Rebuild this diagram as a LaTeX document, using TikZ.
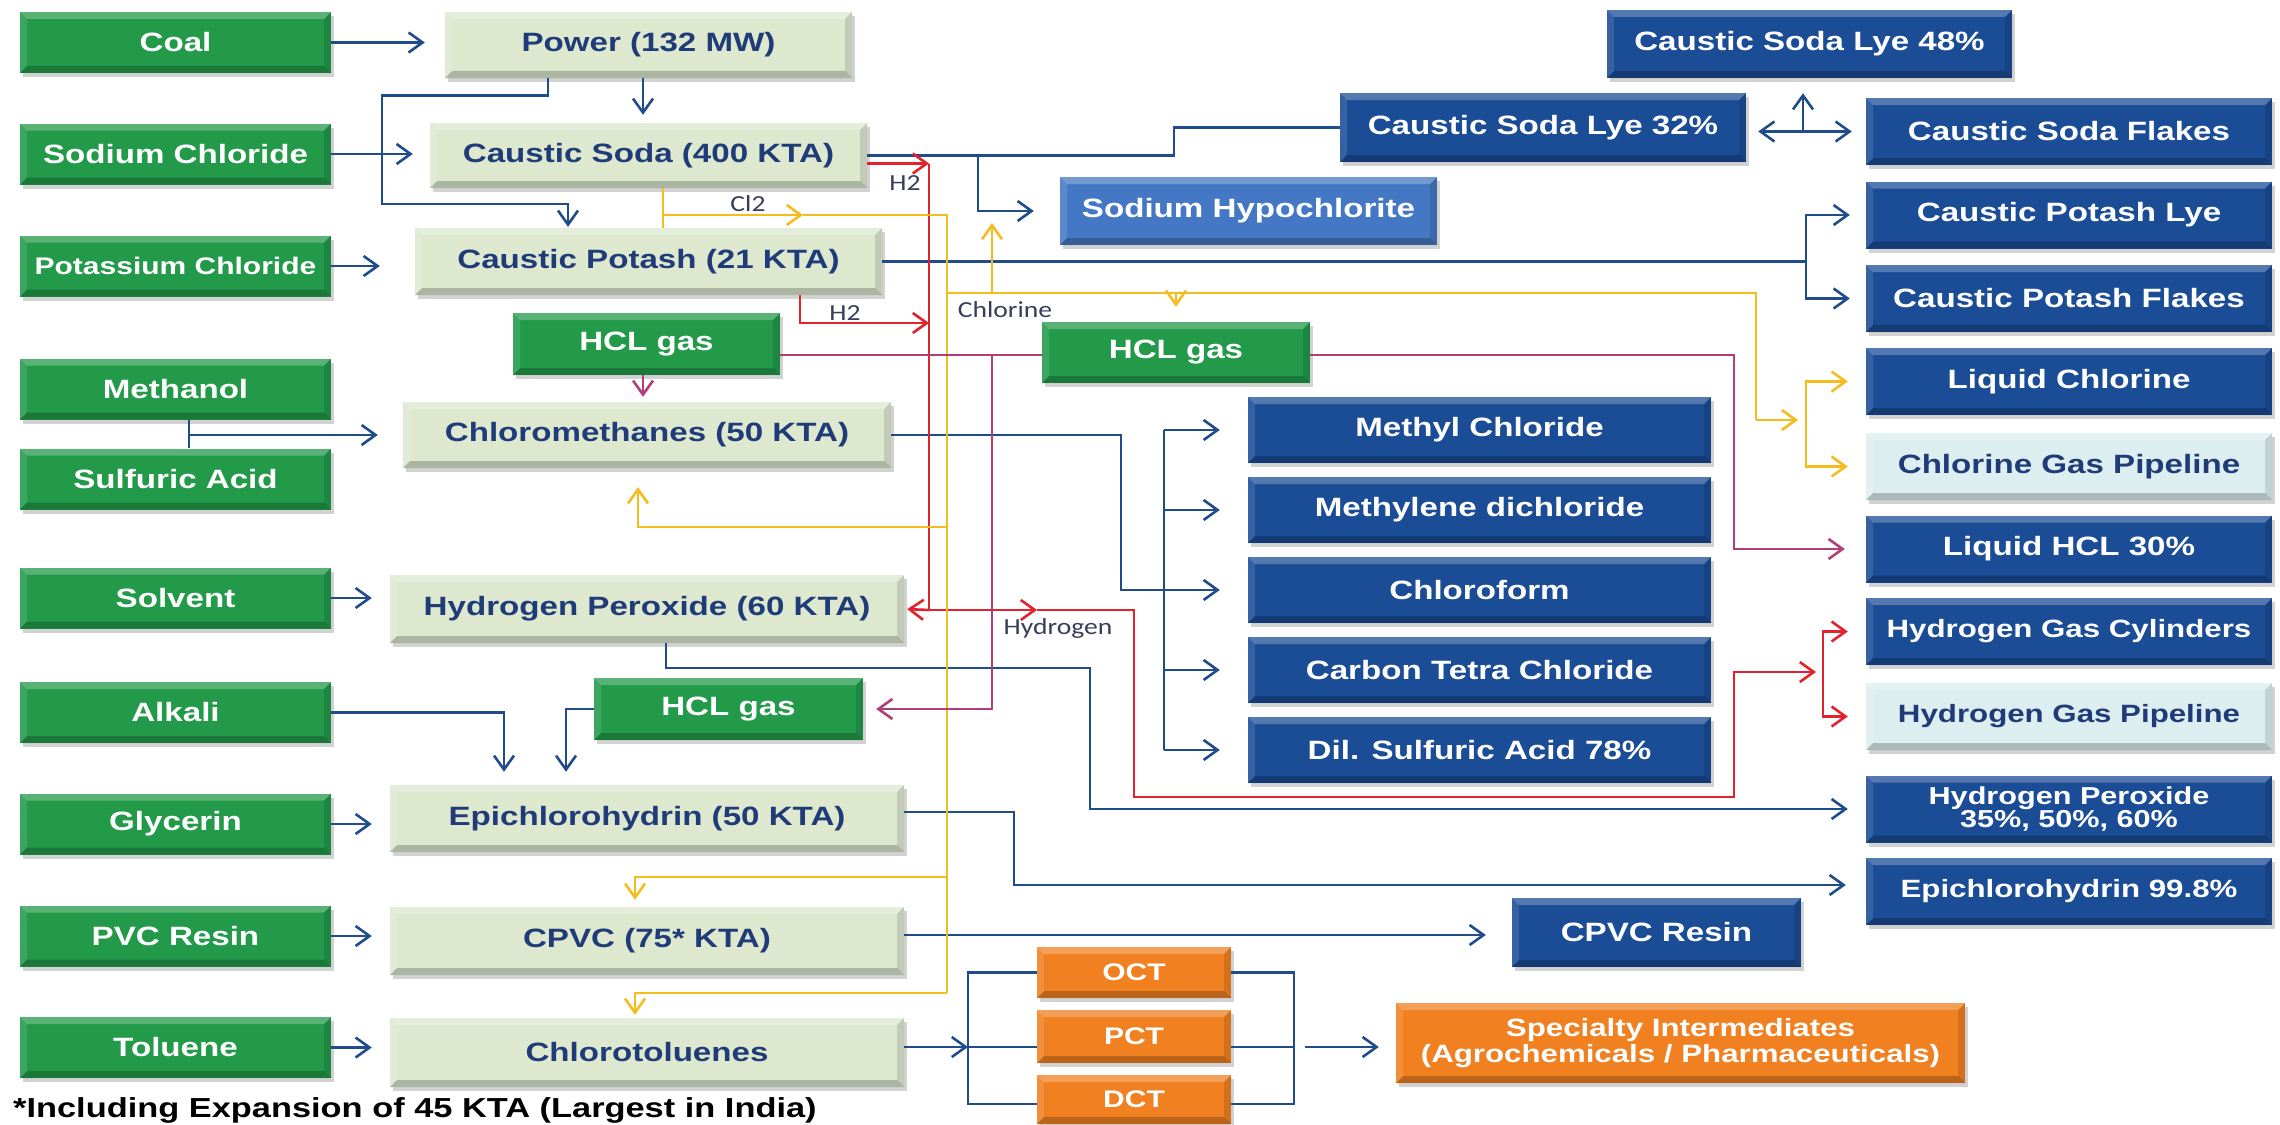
\documentclass[tikz,border=0pt]{standalone}
\usepackage{fontspec}
\setmainfont{Liberation Sans}[FakeStretch=1.25]
\newfontfamily\lblfont{Carlito}[FakeStretch=1.2]
\usetikzlibrary{arrows.meta, shadows, positioning, calc}
\definecolor{InGreen}{RGB}{34,154,74}
\definecolor{ProcGreen}{RGB}{221,232,207}
\definecolor{OutBlue}{RGB}{27,76,150}
\definecolor{LiteBlue}{RGB}{68,120,196}
\definecolor{PipeCyan}{RGB}{221,238,240}
\definecolor{SpecOrange}{RGB}{240,128,32}
\definecolor{NavyText}{RGB}{31,60,120}
\definecolor{LblText}{RGB}{55,62,90}
\definecolor{FlowBlue}{RGB}{32,76,140}
\definecolor{FlowRed}{RGB}{226,35,45}
\definecolor{FlowYellow}{RGB}{244,188,28}
\definecolor{FlowMag}{RGB}{178,62,122}
\tikzset{
  >={Straight Barb[length=14pt,width=20pt]},
  % caselle
  bevel/.style={path picture={
    \coordinate (bnw) at (path picture bounding box.north west);
    \coordinate (bne) at (path picture bounding box.north east);
    \coordinate (bsw) at (path picture bounding box.south west);
    \coordinate (bse) at (path picture bounding box.south east);
    \fill[white,opacity=.25] (bnw) -- (bne) -- ([shift={(-7pt,-7pt)}]bne) -- ([shift={(7pt,-7pt)}]bnw) -- cycle;
    \fill[white,opacity=.12] (bnw) -- ([shift={(7pt,-7pt)}]bnw) -- ([shift={(7pt,7pt)}]bsw) -- (bsw) -- cycle;
    \fill[black,opacity=.22] (bsw) -- (bse) -- ([shift={(-7pt,7pt)}]bse) -- ([shift={(7pt,7pt)}]bsw) -- cycle;
    \fill[black,opacity=.12] (bne) -- ([shift={(-7pt,-7pt)}]bne) -- ([shift={(-7pt,7pt)}]bse) -- (bse) -- cycle;
  }},
  box/.style={rectangle, inner sep=0pt, align=center, bevel,
    font=\bfseries\fontsize{26.5}{28}\selectfont,
    drop shadow={opacity=.35, shadow xshift=3pt, shadow yshift=-4pt}},
  box in/.style={box, fill=InGreen, text=white},
  box left/.style={box in, minimum width=311, minimum height=61},
  box proc/.style={box, fill=ProcGreen, text=NavyText},
  box out/.style={box, fill=OutBlue, text=white},
  box right/.style={box out, minimum width=406, minimum height=67},
  box mid/.style={box out, minimum width=463, minimum height=66},
  box pipe/.style={fill=PipeCyan, text=NavyText},
  box spec/.style={box, fill=SpecOrange, text=white},
  lbl/.style={inner sep=0pt, text=LblText, font=\lblfont\fontsize{23}{24}\selectfont},
  % connessioni
  flow/.style={line width=2.6pt},
  flow blue/.style={flow, draw=FlowBlue},
  flow red/.style={flow, draw=FlowRed},
  flow yellow/.style={flow, draw=FlowYellow},
  flow mag/.style={flow, draw=FlowMag}
}

\begin{document}
\begin{tikzpicture}[x=1pt,y=-1pt]
  \useasboundingbox (0,0) rectangle (2280,1124);
  \fill[white] (0,0) rectangle (2280,1124);

  % materie prime
  \node[box left] (coal) at (175.5,42.5) {Coal};
  \node[box left] (nacl) at (175.5,154) {Sodium Chloride};
  \node[box left, font=\bfseries\fontsize{24}{26}\selectfont] (kcl) at (175.5,266) {Potassium Chloride};
  \node[box left] (meoh) at (175.5,389) {Methanol};
  \node[box left] (hsulf) at (175.5,479) {Sulfuric Acid};
  \node[box left] (solv) at (175.5,598) {Solvent};
  \node[box left] (alkali) at (175.5,712.5) {Alkali};
  \node[box left] (glyc) at (175.5,824) {Glycerin};
  \node[box left] (pvc) at (175.5,936) {PVC Resin};
  \node[box left] (tolu) at (175.5,1047.5) {Toluene};

  % impianti
  \node[box proc, minimum width=407, minimum height=66] (power) at (648.5,45) {Power (132 MW)};
  \node[box proc, minimum width=437, minimum height=65] (soda) at (648.5,155.5) {Caustic Soda (400 KTA)};
  \node[box proc, minimum width=467, minimum height=67] (potash) at (648.5,261.5) {Caustic Potash (21 KTA)};
  \node[box proc, minimum width=488, minimum height=66] (chmeth) at (647,435) {Chloromethanes (50 KTA)};
  \node[box proc, minimum width=514, minimum height=68] (hperox) at (647,609) {Hydrogen Peroxide (60 KTA)};
  \node[box proc, minimum width=514, minimum height=67] (epi) at (647,818.5) {Epichlorohydrin (50 KTA)};
  \node[box proc, minimum width=514, minimum height=68] (cpvc) at (647,941) {CPVC (75* KTA)};
  \node[box proc, minimum width=514, minimum height=69] (chtol) at (647,1052.5) {Chlorotoluenes};

  \node[box in, minimum width=267, minimum height=62] (hcltop) at (646.5,344) {HCL gas};
  \node[box in, minimum width=268, minimum height=61] (hclright) at (1176,352.5) {HCL gas};
  \node[box in, minimum width=269, minimum height=62] (hclmid) at (728.5,709) {HCL gas};

  % prodotti
  \node[box out, minimum width=405, minimum height=68] (lye48) at (1809.5,44) {Caustic Soda Lye 48\%};
  \node[box out, minimum width=406, minimum height=69] (lye32) at (1543,127.5) {Caustic Soda Lye 32\%};
  \node[box out, fill=LiteBlue, minimum width=377, minimum height=68] (hypo) at (1248.5,211) {Sodium Hypochlorite};
  \node[box right] (flakes) at (2069,131.5) {Caustic Soda Flakes};
  \node[box right] (kohlye) at (2069,215) {Caustic Potash Lye};
  \node[box right] (kohflk) at (2069,298.5) {Caustic Potash Flakes};
  \node[box right] (liqcl) at (2069,381.5) {Liquid Chlorine};
  \node[box right, box pipe] (clpipe) at (2069,466.5) {Chlorine Gas Pipeline};
  \node[box right] (liqhcl) at (2069,549) {Liquid HCL 30\%};
  \node[box right, font=\bfseries\fontsize{25}{26}\selectfont] (hcyl) at (2069,631.5) {Hydrogen Gas Cylinders};
  \node[box right, box pipe, font=\bfseries\fontsize{25}{26}\selectfont] (hpipe) at (2069,716.5) {Hydrogen Gas Pipeline};
  \node[box right, font=\bfseries\fontsize{24.5}{23.5}\selectfont] (hpsol) at (2069,809) {Hydrogen Peroxide\\35\%, 50\%, 60\%};
  \node[box right, font=\bfseries\fontsize{25}{26}\selectfont] (epipure) at (2069,891.5) {Epichlorohydrin 99.8\%};

  \node[box mid] (mecl) at (1479.5,430) {Methyl Chloride};
  \node[box mid] (mdc) at (1479.5,510) {Methylene dichloride};
  \node[box mid] (chcl3) at (1479.5,590) {Chloroform};
  \node[box mid] (ccl4) at (1479.5,670) {Carbon Tetra Chloride};
  \node[box mid] (dilsa) at (1479.5,750) {Dil. Sulfuric Acid 78\%};
  \node[box out, minimum width=289, minimum height=69] (cpvcres) at (1656.5,932.5) {CPVC Resin};

  \node[box spec, minimum width=194, minimum height=51, font=\bfseries\fontsize{24}{26}\selectfont] (oct) at (1134,972.5) {OCT};
  \node[box spec, minimum width=194, minimum height=53, font=\bfseries\fontsize{24}{26}\selectfont] (pct) at (1134,1036.5) {PCT};
  \node[box spec, minimum width=194, minimum height=49, font=\bfseries\fontsize{24}{26}\selectfont] (dct) at (1134,1099.5) {DCT};
  \node[box spec, minimum width=569, minimum height=80, font=\bfseries\fontsize{25}{26}\selectfont] (spec) at (1680.5,1043) {Specialty Intermediates\\(Agrochemicals / Pharmaceuticals)};

  \node[anchor=west, inner sep=0pt, font=\bfseries\fontsize{27.5}{29}\selectfont] (note) at (13,1110) {*Including Expansion of 45 KTA (Largest in India)};

  % etichette
  \node[lbl] (lblcl) at (748,204) {Cl2};
  \node[lbl] (lblha) at (905,183) {H2};
  \node[lbl] (lblhb) at (845,313) {H2};
  \node[lbl] (lblchl) at (1005,310) {Chlorine};
  \node[lbl] (lblhyd) at (1058,628) {Hydrogen};

  % punti di diramazione
  \coordinate (sodaj) at (1174,155.5);
  \coordinate (kbus) at (1806,261.5);
  \coordinate (tbus) at (968,1047);
  \coordinate (hbus) at (929,163.5);
  \coordinate (hsplit) at (929,610);
  \coordinate (h2bus) at (1823,672);
  \coordinate (clbus) at (947,215);
  \coordinate (clsplit) at (1806,420);

  % flussi blu
  \draw[flow blue,->,shorten >=20pt] (coal.east) -- (coal.east -| power.west);
  \draw[flow blue,->,shorten >=17pt] (nacl.east) -- (nacl.east -| soda.west);
  \draw[flow blue,->,shorten >=35pt] (kcl.east) -- (kcl.east -| potash.west);
  \draw[flow blue,->,shorten >=8pt] ([xshift=-5.5pt]power.south) -- ([xshift=-5.5pt]power.south |- soda.north);
  \draw[flow blue,->,shorten >=1pt] ([xshift=-100.5pt]power.south) -- ++(0,17) -| (382,204) -| ([xshift=-80.5pt]potash.north);
  \draw[flow blue] (soda.east) -- (sodaj) |- (lye32.west);
  \draw[flow blue,->,shorten >=26pt] (soda.east -| 978,0) |- (hypo.west);
  \draw[flow blue] (potash.east) -- (kbus);
  \draw[flow blue,->,shorten >=16pt] (kbus) |- (kohlye.west);
  \draw[flow blue,->,shorten >=16pt] (kbus) |- (kohflk.west);
  \draw[flow blue,<->,shorten <=12pt,shorten >=14pt] (flakes.west -| lye32.east) -- (flakes.west);
  \draw[flow blue,->,shorten >=15pt] (flakes.west -| 1803,0) -- (lye48.south -| 1803,0);
  \draw[flow blue] ([xshift=13.5pt]meoh.south) -- ([xshift=13.5pt]hsulf.north);
  \draw[flow blue,->,shorten >=25pt] ([xshift=13.5pt]meoh.south |- chmeth.west) -- (chmeth.west);
  \draw[flow blue,->,shorten >=28pt] (chmeth.east) -| (1121,590) -- (chcl3.west);
  \draw[flow blue] (mecl.west -| 1164,0) -- (dilsa.west -| 1164,0);
  \foreach \n in {mecl,mdc,ccl4,dilsa}
    \draw[flow blue,->,shorten >=28pt] (\n.west -| 1164,0) -- (\n.west);
  \draw[flow blue,->,shorten >=18pt] (solv.east) -- (solv.east -| hperox.west);
  \draw[flow blue,->,shorten >=18pt] ([xshift=19pt]hperox.south) |- (1090,668) |- (hpsol.west);
  \draw[flow blue,->,shorten >=13pt] (alkali.east) -| ([xshift=-143pt]epi.north);
  \draw[flow blue,->,shorten >=13pt] (hclmid.west) -| ([xshift=-81pt]epi.north);
  \draw[flow blue,->,shorten >=18pt] (glyc.east) -- (glyc.east -| epi.west);
  \draw[flow blue,->,shorten >=20pt] ([yshift=6.5pt]epi.east) -| (1014,885) -- (epipure.west |- 1014,885);
  \draw[flow blue,->,shorten >=18pt] (pvc.east) -- (pvc.east -| cpvc.west);
  \draw[flow blue,->,shorten >=26pt] ([yshift=6pt]cpvc.east) -- ([yshift=6pt]cpvc.east -| cpvcres.west);
  \draw[flow blue,->,shorten >=18pt] (tolu.east) -- (tolu.east -| chtol.west);
  \draw[flow blue,->] ([yshift=5.5pt]chtol.east) -- (tbus);
  \draw[flow blue] (oct.west) -| (968,1104) -- (dct.west |- 968,1104);
  \draw[flow blue] (tbus) -- (pct.west |- tbus);
  \draw[flow blue] (oct.east) -| (1294,1104) -- (dct.east |- 1294,1104);
  \draw[flow blue] (pct.east |- tbus) -- (1294,1047);
  \draw[flow blue,->,shorten >=17pt] (1305,1047) -- (spec.west |- tbus);

  % idrogeno
  \draw[flow red,->] ([yshift=-8pt]soda.east) -- (hbus);
  \draw[flow red,->] ([xshift=151.5pt]potash.south) |- (hbus |- 0,323);
  \draw[flow red] (hbus) -- (hsplit);
  \draw[flow red,->,shorten >=3pt] (hsplit) -- (hperox.east);
  \draw[flow red,->] (hsplit) -- (1037,610);
  \draw[flow red,->] (1037,610) -- (1134,610) |- (1734,797) |- (1816,672);
  \draw[flow red,->,shorten >=18pt] (h2bus) |- (hcyl.west);
  \draw[flow red,->,shorten >=18pt] (h2bus) |- (hpipe.west);

  % cloro
  \draw[flow yellow] ([xshift=14.5pt]soda.south) -- ([xshift=14.5pt]potash.north);
  \draw[flow yellow,->] ([xshift=14.5pt]soda.south |- clbus) -- (803,215);
  \draw[flow yellow] (803,215) -- (clbus) -- (947,993);
  \draw[flow yellow] (clbus |- 0,293) -- (1756,293) -- (1756,420);
  \draw[flow yellow,->] (1756,420) -- (1798,420);
  \draw[flow yellow,->,shorten >=18pt] (clsplit) |- (liqcl.west);
  \draw[flow yellow,->,shorten >=18pt] (clsplit) |- (clpipe.west);
  \draw[flow yellow,->] (992,293) -- (992,223);
  \draw[flow yellow,->,shorten >=15pt] (hclright.north |- 0,293) -- (hclright.north);
  \draw[flow yellow,->,shorten >=19pt] (clbus |- 0,527) -| ([xshift=-9pt]chmeth.south);
  \draw[flow yellow,->,shorten >=7pt] (clbus |- 0,877) -| ([xshift=-12pt]cpvc.north);
  \draw[flow yellow,->,shorten >=3pt] (clbus |- 0,993) -| ([xshift=-12pt]chtol.north);

  % acido cloridrico
  \draw[flow mag] ([yshift=-11pt]hcltop.east) -- ([yshift=-2.5pt]hclright.west);
  \draw[flow mag,->,shorten >=21pt] ([yshift=-2.5pt]hclright.east) -| (1734,549) -- (liqhcl.west);
  \draw[flow mag,->,shorten >=13pt] (992,355) |- (hclmid.east);
  \draw[flow mag,->,shorten >=5pt] ([xshift=-3.5pt]hcltop.south) -- ([xshift=-3.5pt]hcltop.south |- chmeth.north);
\end{tikzpicture}
\end{document}
